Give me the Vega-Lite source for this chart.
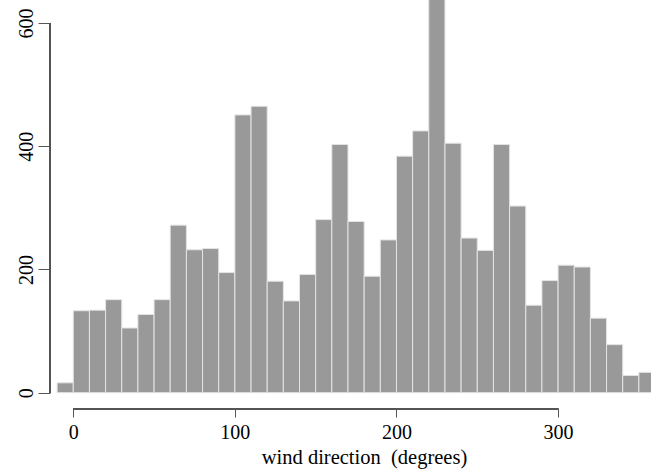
{
  "$schema": "https://vega.github.io/schema/vega-lite/v6.json",
  "autosize": {"type": "none"},
  "padding": {"left": 50, "top": 0, "right": 0, "bottom": 65},
  "width": 601,
  "height": 409,
  "background": "white",
  "config": {"view": {"stroke": null}, "font": "Liberation Serif", "axis": {"labelFont": "Liberation Serif", "titleFont": "Liberation Serif"}},
  "data": {"values": [
    {"start": -10, "end": 0, "count": 16},
    {"start": 0, "end": 10, "count": 133},
    {"start": 10, "end": 20, "count": 134},
    {"start": 20, "end": 30, "count": 151},
    {"start": 30, "end": 40, "count": 105},
    {"start": 40, "end": 50, "count": 127},
    {"start": 50, "end": 60, "count": 151},
    {"start": 60, "end": 70, "count": 272},
    {"start": 70, "end": 80, "count": 232},
    {"start": 80, "end": 90, "count": 234},
    {"start": 90, "end": 100, "count": 195},
    {"start": 100, "end": 110, "count": 451},
    {"start": 110, "end": 120, "count": 465},
    {"start": 120, "end": 130, "count": 181},
    {"start": 130, "end": 140, "count": 149},
    {"start": 140, "end": 150, "count": 192},
    {"start": 150, "end": 160, "count": 281},
    {"start": 160, "end": 170, "count": 403},
    {"start": 170, "end": 180, "count": 278},
    {"start": 180, "end": 190, "count": 189},
    {"start": 190, "end": 200, "count": 248},
    {"start": 200, "end": 210, "count": 384},
    {"start": 210, "end": 220, "count": 425},
    {"start": 220, "end": 230, "count": 662},
    {"start": 230, "end": 240, "count": 405},
    {"start": 240, "end": 250, "count": 251},
    {"start": 250, "end": 260, "count": 231},
    {"start": 260, "end": 270, "count": 403},
    {"start": 270, "end": 280, "count": 303},
    {"start": 280, "end": 290, "count": 142},
    {"start": 290, "end": 300, "count": 182},
    {"start": 300, "end": 310, "count": 207},
    {"start": 310, "end": 320, "count": 204},
    {"start": 320, "end": 330, "count": 121},
    {"start": 330, "end": 340, "count": 78},
    {"start": 340, "end": 350, "count": 28},
    {"start": 350, "end": 360, "count": 33}
  ]},
  "layer": [
    {
      "mark": {"type": "bar", "fill": "#999999", "stroke": "#e4e4e4", "strokeWidth": 1, "clip": true},
      "encoding": {
        "x": {"field": "start", "type": "quantitative",
          "scale": {"domain": [-14.4, 357.5], "nice": false, "zero": false},
          "axis": {"values": [0, 100, 200, 300], "domain": false, "grid": false,
            "tickSize": 8, "tickColor": "#555", "tickWidth": 1,
            "labelFont": "Liberation Serif", "labelFontSize": 20, "labelColor": "black",
            "labelPadding": 5,
            "title": "wind direction\u00a0 (degrees)", "titleFont": "Liberation Serif",
            "titleFontSize": 20.5, "titleFontWeight": "normal", "titleColor": "black",
            "titleBaseline": "alphabetic", "titleX": 314, "titleY": 54, "titleAnchor": "middle"}},
        "x2": {"field": "end"},
        "y": {"field": "count", "type": "quantitative",
          "scale": {"domain": [-26.5, 637.5], "nice": false, "zero": false},
          "axis": {"values": [0, 200, 400, 600], "domain": false, "grid": false,
            "tickSize": 12, "tickColor": "#555", "tickWidth": 1,
            "labelFont": "Liberation Serif", "labelFontSize": 20, "labelColor": "black",
            "labelAngle": -90, "labelAlign": "center", "labelBaseline": "alphabetic",
            "labelPadding": 6, "title": null}},
        "y2": {"datum": 0}
      }
    },
    {
      "mark": {"type": "rule", "color": "#555", "strokeWidth": 1},
      "encoding": {
        "x": {"datum": -14.4, "type": "quantitative"},
        "y": {"datum": 0, "type": "quantitative"},
        "y2": {"datum": 600}
      }
    },
    {
      "mark": {"type": "rule", "color": "#555", "strokeWidth": 1},
      "encoding": {
        "y": {"datum": -26.5, "type": "quantitative"},
        "x": {"datum": 0, "type": "quantitative"},
        "x2": {"datum": 300}
      }
    }
  ]
}
